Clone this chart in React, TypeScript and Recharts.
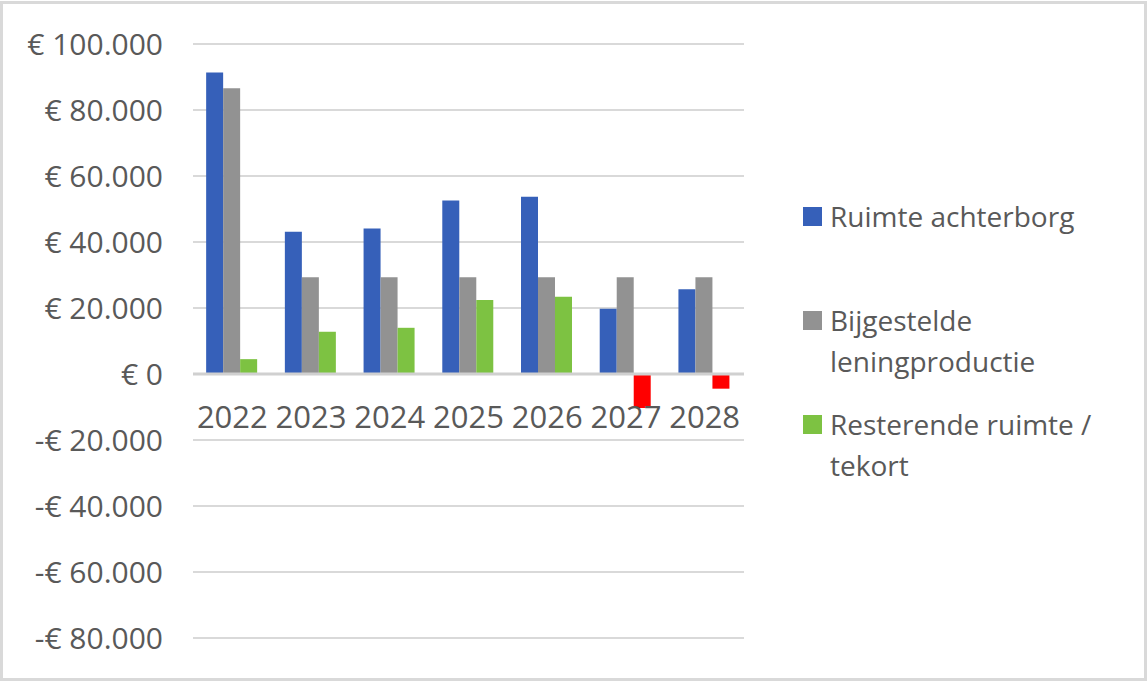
import React from 'react';
import {
  ComposedChart,
  Bar,
  Line,
  Cell,
  XAxis,
  YAxis,
  CartesianGrid,
  Legend,
  ReferenceLine,
  LabelList,
} from 'recharts';

const years = ['2022', '2023', '2024', '2025', '2026', '2027', '2028'];
const ruimteAchterborg = [91400, 43100, 44100, 52600, 53700, 19800, 25700];
const bijgesteldeLeningproductie = [86600, 29300, 29300, 29300, 29300, 29300, 29300];
const resterendeRuimte = [4500, 12800, 14000, 22400, 23400, -10300, -4450];
const yTicks = [-80000, -60000, -40000, -20000, 0, 20000, 40000, 60000, 80000, 100000];

const seriesNames = ['Ruimte achterborg', 'Bijgestelde leningproductie', 'Resterende ruimte / tekort'];
const seriesColors = ['#3660B9', '#929292', '#7DC242'];
const negativeColor = '#FF0000';

const data = years.map((year, i) => ({
  year,
  a: ruimteAchterborg[i],
  b: bijgesteldeLeningproductie[i],
  c: resterendeRuimte[i],
}));

const FONT = '"Open Sans", sans-serif';
const TEXT = '#595959';

const fmtEuro = (v: number) => {
  const s = Math.abs(v).toString().replace(/\B(?=(\d{3})+(?!\d))/g, '.');
  return (v < 0 ? '-' : '') + '€ ' + s;
};

const YearLabel = (props: any) => {
  const { x, y, value } = props;
  return (
    <text
      x={x}
      y={y + 54}
      textAnchor="middle"
      fill={TEXT}
      fontSize={31}
      fontFamily={FONT}
    >
      {value}
    </text>
  );
};

const LegendContent = () => (
  <div style={{ paddingLeft: 59, fontFamily: FONT, fontSize: 28, color: TEXT }}>
    {seriesNames.map((name, i) => (
      <div key={name} style={{ display: 'flex', alignItems: 'flex-start', height: 104 }}>
        <div
          style={{
            width: 19,
            height: 19,
            background: seriesColors[i],
            marginTop: 11,
            marginRight: 8,
            flex: '0 0 auto',
          }}
        />
        <div style={{ width: 290, lineHeight: '41px' }}>{name}</div>
      </div>
    ))}
  </div>
);

export default function App() {
  return (
    <div style={{ position: 'absolute', left: 0, top: 0, width: 1148, height: 682, background: '#fff' }}>
      <div
        style={{
          position: 'absolute',
          left: 0,
          top: 1,
          width: 1147,
          height: 680,
          border: '3px solid #d9d9d9',
          boxSizing: 'border-box',
        }}
      />
      <div style={{ position: 'absolute', left: 0, top: 0 }}>
        <ComposedChart
          width={1148}
          height={682}
          data={data}
          margin={{ top: 44, right: 44, bottom: 44, left: 0 }}
          barCategoryGap="16.7%"
          barGap={0}
        >
          <CartesianGrid vertical={false} stroke="#d9d9d9" strokeWidth={2} />
          <XAxis dataKey="year" hide />
          <YAxis
            width={193}
            domain={[-80000, 100000]}
            ticks={yTicks}
            interval={0}
            axisLine={false}
            tickLine={false}
            tickSize={0}
            tickMargin={30}
            tickFormatter={fmtEuro}
            tick={{ fill: TEXT, fontSize: 30, fontFamily: FONT }}
          />
          <Legend
            layout="vertical"
            align="right"
            verticalAlign="middle"
            wrapperStyle={{ width: 360, top: 196 }}
            content={<LegendContent />}
          />
          <Bar dataKey="a" name={seriesNames[0]} fill={seriesColors[0]} isAnimationActive={false} />
          <Bar dataKey="b" name={seriesNames[1]} fill={seriesColors[1]} isAnimationActive={false} />
          <Bar dataKey="c" name={seriesNames[2]} fill={seriesColors[2]} isAnimationActive={false}>
            {data.map((d, i) => (
              <Cell key={i} fill={d.c < 0 ? negativeColor : seriesColors[2]} />
            ))}
          </Bar>
          <ReferenceLine y={0} stroke="#d0d0d0" strokeWidth={3} />
          <Line
            dataKey={() => 0}
            stroke="none"
            dot={false}
            activeDot={false}
            legendType="none"
            isAnimationActive={false}
          >
            <LabelList dataKey="year" content={<YearLabel />} />
          </Line>
        </ComposedChart>
      </div>
    </div>
  );
}
